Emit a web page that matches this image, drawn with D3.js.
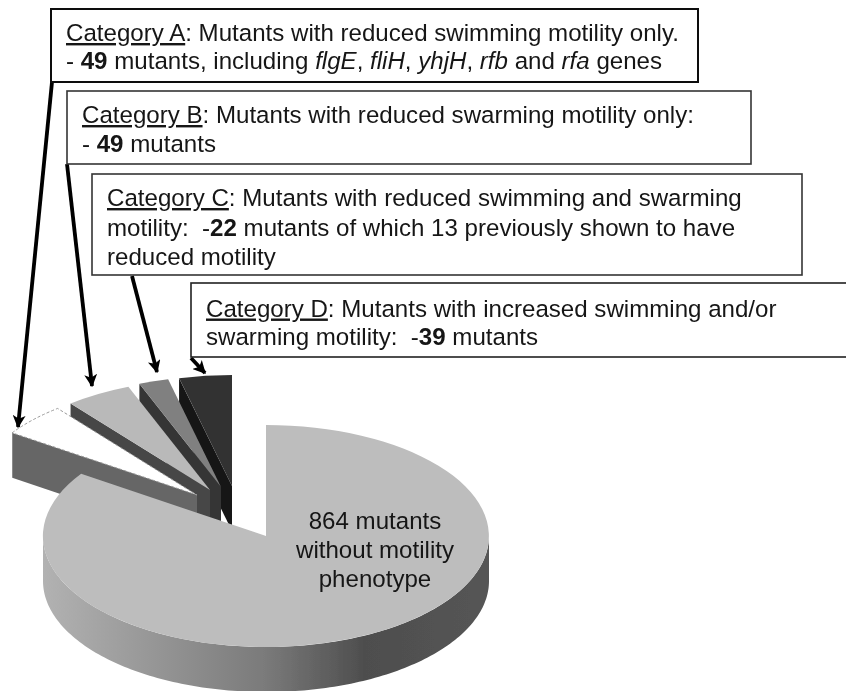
<!DOCTYPE html>
<html>
<head>
<meta charset="utf-8">
<script src="https://cdn.jsdelivr.net/npm/d3@7/dist/d3.min.js"></script>
<style>
html, body { margin: 0; padding: 0; background: #fff; }
svg { display: block; }
text { font-family: "Liberation Sans", Arial, sans-serif; font-size: 24.1px; fill: #161616; white-space: pre; }
</style>
</head>
<body>
<svg id="chart" width="846" height="691"></svg>
<script>
// slice counts, D sits next to 12 o'clock and the list runs counter clockwise
const sliceNames = ["D", "C", "B", "A", "none"];
const sliceValues = [39, 22, 49, 49, 864];
const sliceTop = ["#333333", "#808080", "#b9b9b9", "#ffffff", "#bdbdbd"];
const sliceSide = ["#141414", "#363636", "#474747", "#666666", null];

// how far each wedge is pulled out of the pie, in pixels
const explodeX = [-34, -45, -56, -69, 0];
const explodeY = [-50, -49, -46, -41, 0];

const boxes = [
	{ x: 51, y: 9, w: 647, h: 73, stroke: "#111", sw: 2, base: 32, gap: 28, lines: [
		[["Category A", "u"], [": Mutants with reduced swimming motility only."]],
		[["- "], ["49", "b"], [" mutants, including "], ["flgE", "i"], [", "], ["fliH", "i"], [", "], ["yhjH", "i"], [", "], ["rfb", "i"], [" and "], ["rfa", "i"], [" genes"]]
	]},
	{ x: 67, y: 91, w: 684, h: 73, stroke: "#333", sw: 1.6, base: 32, gap: 29, lines: [
		[["Category B", "u"], [": Mutants with reduced swarming motility only:"]],
		[["- "], ["49", "b"], [" mutants"]]
	]},
	{ x: 92, y: 174, w: 710, h: 101, stroke: "#333", sw: 1.6, base: 32, gap: 29.5, lines: [
		[["Category C", "u"], [": Mutants with reduced swimming and swarming"]],
		[["motility:  -"], ["22", "b"], [" mutants of which 13 previously shown to have"]],
		[["reduced motility"]]
	]},
	{ x: 191, y: 283, w: 670, h: 74, stroke: "#222", sw: 1.6, base: 33.5, gap: 28, lines: [
		[["Category D", "u"], [": Mutants with increased swimming and/or"]],
		[["swarming motility:  -"], ["39", "b"], [" mutants"]]
	]}
];

const arrows = [
	[[52, 82], [18, 427]],
	[[67, 164], [92, 386]],
	[[132, 276], [157, 372]],
	[[191, 358], [205, 373]]
];

const pieLabel = ["864 mutants", "without motility", "phenotype"];

const svg = d3.select("#chart");
const cx = 266, cy = 536, rx = 223, ry = 111, depth = 45;

const pie = d3.pie().sort(null).value(d => d);
const arcs = pie(sliceValues);

// pie runs clockwise in d3, the wedges here run counter clockwise so mirror the angle
const arcGen = d3.arc().innerRadius(0).outerRadius(1)
	.startAngle(d => -d.endAngle)
	.endAngle(d => -d.startAngle);

const defs = svg.append("defs");
const grad = defs.append("linearGradient").attr("id", "sideGrad");
grad.append("stop").attr("offset", "0").attr("stop-color", "#b2b2b2");
grad.append("stop").attr("offset", "0.5").attr("stop-color", "#7a7a7a");
grad.append("stop").attr("offset", "0.72").attr("stop-color", "#4e4e4e");
grad.append("stop").attr("offset", "1").attr("stop-color", "#555555");

const defsMarker = defs.append("marker")
	.attr("id", "head")
	.attr("viewBox", "0 0 10 10")
	.attr("refX", 9).attr("refY", 5)
	.attr("markerWidth", 3.4).attr("markerHeight", 3.4)
	.attr("orient", "auto");
defsMarker.append("path").attr("d", "M0,0L10,5L0,10L2.5,5Z").attr("fill", "#000");

// the reference is a soft, rescaled scan
defs.append("filter").attr("id", "soft")
	.append("feGaussianBlur").attr("stdDeviation", 0.45);

const root = svg.append("g").attr("filter", "url(#soft)");

function point(angle, ox, oy, drop) {
	return [cx + ox - rx * Math.sin(angle), cy + oy + drop - ry * Math.cos(angle)];
}

const pieGroup = root.append("g").attr("class", "pie");
const line = d3.line();

// small wedges first, each one overlaps the side of the one before it
arcs.forEach(function(d, i) {
	const ox = explodeX[i], oy = explodeY[i];
	if (sliceSide[i]) {
		pieGroup.append("path")
			.attr("d", line([
				point(d.endAngle, ox, oy, 0),
				[cx + ox, cy + oy],
				[cx + ox, cy + oy + depth],
				point(d.endAngle, ox, oy, depth)
			]))
			.attr("fill", sliceSide[i]);
	} else {
		// main slice, only the front half of the rim can be seen
		const front = d3.range(Math.PI / 2, Math.PI * 1.5 + 0.001, 0.02);
		const rim = front.map(a => point(-a, ox, oy, 0))
			.concat(front.slice().reverse().map(a => point(-a, ox, oy, depth)));
		pieGroup.append("path")
			.attr("d", line(rim) + "Z")
			.attr("fill", "url(#sideGrad)");
	}
	const face = pieGroup.append("path")
		.attr("d", arcGen(d))
		.attr("transform", "translate(" + (cx + ox) + "," + (cy + oy) + ") scale(" + rx + "," + ry + ")")
		.attr("fill", sliceTop[i]);
	// white wedge needs its faint dashed rim or it vanishes on the page
	if (sliceNames[i] === "A") {
		face.attr("stroke", "#999")
			.attr("stroke-width", 1)
			.attr("stroke-dasharray", "3 2")
			.attr("vector-effect", "non-scaling-stroke");
	}
});

pieGroup.selectAll("text.pie-label")
	.data(pieLabel)
	.enter().append("text")
	.attr("class", "pie-label")
	.attr("x", 375)
	.attr("y", (d, i) => 529 + i * 29)
	.attr("text-anchor", "middle")
	.text(d => d);

root.append("g").attr("class", "arrows")
	.selectAll("line")
	.data(arrows)
	.enter().append("line")
	.attr("x1", d => d[0][0]).attr("y1", d => d[0][1])
	.attr("x2", d => d[1][0]).attr("y2", d => d[1][1])
	.attr("stroke", "#000")
	.attr("stroke-width", 3.8)
	.attr("marker-end", "url(#head)");

const boxGroups = root.append("g").attr("class", "boxes")
	.selectAll("g")
	.data(boxes)
	.enter().append("g");

boxGroups.append("rect")
	.attr("x", d => d.x).attr("y", d => d.y)
	.attr("width", d => d.w).attr("height", d => d.h)
	.attr("fill", "#fff")
	.attr("stroke", d => d.stroke)
	.attr("stroke-width", d => d.sw);

boxGroups.each(function(b) {
	const g = d3.select(this);
	b.lines.forEach(function(runs, i) {
		const t = g.append("text")
			.attr("x", b.x + 15)
			.attr("y", b.y + b.base + i * b.gap);
		runs.forEach(function(r) {
			const span = t.append("tspan").text(r[0]);
			if (r[1] === "b") span.attr("font-weight", "bold");
			if (r[1] === "i") span.attr("font-style", "italic");
			if (r[1] === "u") span.attr("text-decoration", "underline");
		});
	});
});
</script>
</body>
</html>
